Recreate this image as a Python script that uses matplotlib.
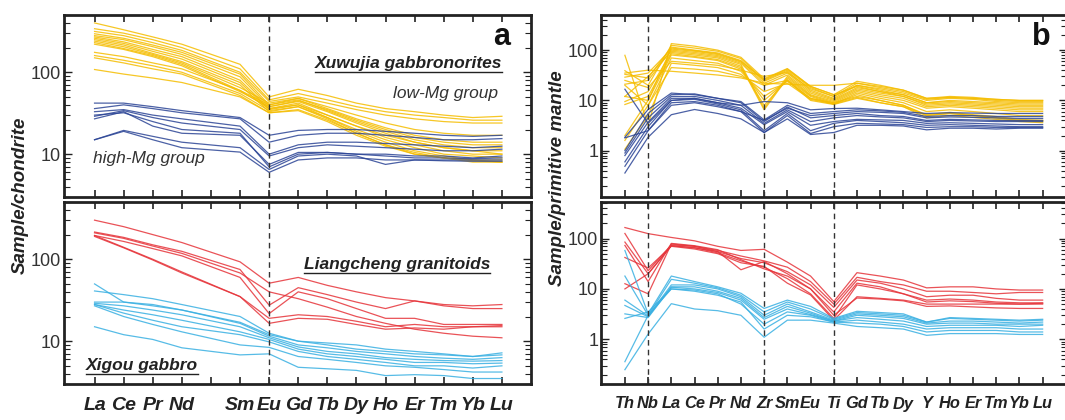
import matplotlib
matplotlib.use("Agg")
import matplotlib.pyplot as plt
from matplotlib.ticker import LogLocator, NullFormatter, FuncFormatter
from matplotlib.lines import Line2D

plt.rcParams['font.family'] = ['Liberation Sans', 'DejaVu Sans']

# element order (blank = Pm, tick without label)
ree_ticks = ['La', 'Ce', 'Pr', 'Nd', '', 'Sm', 'Eu', 'Gd', 'Tb', 'Dy', 'Ho', 'Er', 'Tm', 'Yb', 'Lu']
ree_elements = ['La', 'Ce', 'Pr', 'Nd', 'Sm', 'Eu', 'Gd', 'Tb', 'Dy', 'Ho', 'Er', 'Tm', 'Yb', 'Lu']
spider_elements = ['Th', 'Nb', 'La', 'Ce', 'Pr', 'Nd', 'Zr', 'Sm', 'Eu', 'Ti',
                   'Gd', 'Tb', 'Dy', 'Y', 'Ho', 'Er', 'Tm', 'Yb', 'Lu']

# chondrite normalised REE
xuwujia_lowmg_ree = [
    [400, 330, 270, 220, 125, 50, 62, 52, 42, 36, 33, 30, 28, 29],
    [340, 300, 250, 200, 110, 46, 55, 46, 38, 33, 30, 28, 26, 26],
    [315, 280, 230, 185, 100, 44, 50, 42, 35, 30, 27, 25, 24, 24],
    [295, 260, 215, 175, 95, 40, 48, 38, 30, 24, 20, 18, 17, 17],
    [280, 250, 205, 165, 88, 38, 45, 35, 26, 20, 16, 14, 13, 13],
    [270, 235, 190, 155, 80, 36, 42, 30, 22, 16, 13, 11, 10, 10],
    [260, 225, 180, 145, 75, 35, 40, 28, 19, 14, 11, 9.5, 8.5, 8.5],
    [250, 215, 170, 135, 70, 33, 38, 27, 18, 13, 10, 9, 8, 8],
    [240, 205, 165, 130, 65, 42, 48, 36, 27, 21, 17, 15, 14, 14],
    [230, 195, 160, 125, 60, 40, 46, 34, 25, 19, 15, 13, 12, 12],
    [220, 190, 155, 120, 58, 38, 44, 33, 24, 18, 14, 12, 11, 11],
    [175, 155, 130, 110, 60, 36, 40, 30, 22, 17, 14, 12, 11, 10],
    [160, 140, 120, 100, 55, 34, 38, 28, 20, 15, 12, 10, 9.5, 9],
    [150, 130, 110, 95, 52, 32, 35, 26, 18, 13, 10.5, 9, 8.5, 8],
    [108, 95, 85, 75, 50, 32, 34, 25, 17, 12.5, 10, 9, 8.3, 8],
]
xuwujia_highmg_ree = [
    [42, 42, 38, 34, 28, 17, 19.5, 20, 20, 19, 18, 17, 16.5, 17],
    [36, 40, 36, 32, 27, 14, 17, 18, 18, 17, 16, 15, 15, 15.5],
    [33, 35, 30, 27, 22, 10, 13, 14, 14, 13.5, 13, 12.5, 12, 12.5],
    [29, 34, 28, 24, 20, 9.5, 12, 13, 12.5, 12, 11.5, 11, 11, 11.5],
    [27, 33, 22, 18, 17, 7.5, 10.5, 10.5, 10, 10, 9.5, 9.5, 9, 9.5],
    [30, 32, 25, 20, 18, 7, 10, 10.5, 10, 9.5, 9, 9, 8.8, 9],
    [15, 19.5, 16.5, 14, 12, 6.5, 9.5, 10, 9.5, 7.5, 8.5, 8.5, 8.5, 8.5],
    [15, 19, 15, 12, 10.6, 6, 8.5, 9, 9, 8.5, 8.5, 8.3, 8.2, 8.2],
]
liangcheng_ree = [
    [300, 250, 200, 160, 93, 51, 60, 48, 40, 34, 31, 28, 27, 28],
    [215, 185, 150, 125, 75, 27.5, 45, 37, 30, 25, 31, 27, 25, 25],
    [210, 180, 145, 118, 68, 40, 33, 26, 20, 16.5, 14, 12.5, 11.5, 11],
    [195, 165, 135, 110, 60, 21.7, 40, 33, 25, 19, 19, 16, 16, 16],
    [195, 140, 100, 70, 35, 19, 21, 20, 17.5, 15, 16, 15, 15, 15],
    [190, 138, 98, 68, 35, 16.5, 19, 18.5, 16, 14, 14.5, 14, 15, 15.5],
]
xigou_ree = [
    [50, 30, 27, 24, 17, 12, 10, 9.5, 9, 8, 7.5, 7, 6.5, 7.2],
    [41, 37, 33, 28, 20, 12.5, 10, 9, 8, 7.5, 7, 6.8, 6.5, 6.8],
    [30, 30, 28, 24, 16.5, 11.5, 9, 8.3, 7.5, 7, 6.5, 6.2, 6, 6.3],
    [29, 27, 24, 21, 15, 11, 8.5, 7.5, 7, 6.3, 6, 5.8, 5.7, 5.8],
    [28, 24, 21, 18, 13, 10.5, 8, 7, 6.5, 6, 5.5, 5.5, 5.3, 5.4],
    [28, 22, 18, 15, 12, 9.8, 7.5, 6.5, 6, 5.5, 5, 5, 4.7, 5],
    [27, 20, 16, 13, 9, 8.4, 6.5, 6, 5.5, 5, 4.8, 4.5, 4.2, 4.2],
    [15, 12, 10.5, 8.3, 6.8, 7, 4.8, 4.6, 4.4, 3.8, 3.9, 3.8, 3.5, 3.5],
]

# primitive mantle normalised trace elements
xuwujia_lowmg_pm = [
    [79, 3.2, 135, 120, 100, 72, 27, 43, 19, 13, 24, 20, 16, 11, 12, 11.5, 10.5, 10, 10],
    [39, 20, 125, 110, 95, 68, 25, 40, 18, 12, 22, 18, 15, 10.5, 11.5, 11, 10, 9.5, 9.5],
    [33, 28, 115, 100, 88, 62, 24, 38, 16, 11, 20, 17, 14, 10, 11, 10.5, 9.5, 9, 9],
    [29, 35, 105, 95, 82, 58, 22, 35, 15, 10.5, 18, 15, 13, 9, 10, 9.5, 9, 8.5, 8.5],
    [21, 25, 100, 90, 78, 55, 20, 32, 14, 10, 17, 14, 12, 8.5, 9, 8.5, 8, 7.5, 7.5],
    [12, 30, 95, 85, 74, 52, 7, 30, 13, 9.5, 16, 13, 11, 7.5, 8, 7.5, 7, 6.5, 6.5],
    [9.5, 15, 90, 80, 70, 48, 6.5, 28, 12.5, 9, 15, 12, 10, 7, 7.5, 7, 6.5, 6, 6],
    [8.3, 12, 85, 75, 65, 45, 8, 26, 12, 8.5, 14, 11, 9, 6, 6.5, 6, 5.5, 5, 5],
    [2.0, 10, 80, 72, 62, 42, 10, 25, 11, 8.5, 13, 10, 8, 5, 5.5, 5, 4.5, 4, 3.8],
    [1.6, 8, 70, 62, 55, 38, 12, 24, 11, 9, 12, 10, 8, 5.2, 5.8, 5.2, 4.8, 4.2, 4],
    [1.07, 5, 55, 50, 45, 33, 15, 22, 10.5, 8.5, 11.5, 9, 7.5, 4.5, 5, 4.6, 4.2, 3.8, 3.6],
    [20, 8, 45, 42, 38, 30, 20, 25, 10, 8.3, 11, 9, 7.5, 5, 5.5, 5, 4.5, 4, 4],
    [35, 40, 38, 35, 32, 28, 22, 21, 20, 20, 22, 19, 16, 11, 11.5, 11, 10.5, 10, 10],
    [25, 18, 60, 55, 50, 40, 30, 36, 17, 12, 20, 16, 13, 9, 9.5, 9, 8.5, 8, 8],
    [12, 10, 110, 98, 85, 60, 26, 42, 19, 13, 19, 15, 12, 8, 8.5, 8, 7.5, 7, 7],
]
xuwujia_highmg_pm = [
    [16.7, 3.5, 10, 11, 9, 8, 9.5, 9, 6.5, 6.9, 7, 6.5, 6, 5.5, 5.7, 5.6, 5.5, 5.5, 5.5],
    [1.85, 6.6, 14, 13, 11, 9.5, 4.1, 8, 5.5, 6, 6.5, 6.2, 5.8, 4.8, 5, 5, 4.8, 4.8, 4.8],
    [1.0, 5.5, 13, 13.5, 11, 9, 3.8, 7.4, 4.5, 5, 5.5, 5, 4.8, 4, 4.2, 4.1, 4, 4, 4],
    [0.9, 4.5, 12, 12, 10, 8, 3.5, 6.5, 3.8, 4.5, 5, 4.7, 4.5, 3.8, 4, 3.9, 3.8, 3.8, 3.8],
    [0.8, 3.7, 11, 11, 9, 7, 3.3, 6, 3.2, 3.8, 4.2, 4.1, 4, 3.5, 3.6, 3.5, 3.4, 3.3, 3.3],
    [0.6, 3, 10, 10.5, 8.5, 6.5, 2.5, 5.5, 2.5, 3.5, 4, 3.8, 3.6, 3.2, 3.3, 3.2, 3.1, 3, 3],
    [0.49, 2.5, 9, 9.5, 8, 6, 2.3, 5, 2.2, 3, 3.5, 3.4, 3.3, 2.9, 3, 3, 2.9, 2.9, 2.9],
    [0.36, 1.85, 5.2, 6.6, 5.5, 4.3, 2.3, 4.3, 2.1, 2.3, 3.2, 3.2, 3.1, 2.6, 2.8, 2.8, 2.7, 2.8, 2.8],
    [1.8, 2.5, 8, 9, 7.5, 6, 4, 7, 5, 5.5, 6, 5.8, 5.5, 4.5, 4.7, 4.6, 4.5, 4.4, 4.4],
]
liangcheng_pm = [
    [165, 125, 105, 90, 70, 58, 61, 34, 18, 5.6, 21, 18, 15, 10.5, 11, 11, 10, 9.5, 9.5],
    [126, 23, 75, 70, 58, 45, 36, 27, 14, 5, 17, 14, 12, 9, 9, 8.5, 8, 8.5, 8.5],
    [85, 20, 72, 65, 55, 40, 33, 22, 12, 4.3, 15, 13, 10, 7, 7.5, 7.5, 6.5, 6, 6],
    [73, 14, 80, 72, 60, 38, 25, 18, 10, 3.5, 13, 11, 8, 6, 6.3, 6, 5.5, 5.3, 5.3],
    [42, 26, 70, 62, 50, 33, 28, 13, 7.6, 2.4, 7, 6.5, 6, 5, 5, 5, 5, 5, 5.2],
    [12.7, 8, 78, 70, 55, 24, 35, 20, 10, 3, 6.6, 6.3, 5.8, 4.5, 4.6, 4.4, 4.2, 4.1, 4.1],
    [10, 20, 72, 66, 52, 36, 27, 16, 8, 2.6, 12, 10, 8, 5.5, 5.8, 5.6, 5.2, 5, 5],
]
xigou_pm = [
    [58, 3.2, 18, 14, 11, 8.2, 4.1, 6, 4.5, 2.6, 3.6, 3.4, 3.2, 2.2, 2.7, 2.6, 2.5, 2.4, 2.5],
    [18, 3.0, 15.5, 13, 10.5, 7.5, 3.5, 5.5, 4, 2.5, 3.4, 3.2, 3, 2.2, 2.6, 2.5, 2.4, 2.3, 2.4],
    [6, 2.9, 12, 12, 10, 7, 3, 5, 3.5, 2.4, 3.2, 3, 2.8, 2.1, 2.3, 2.3, 2.2, 2.1, 2.2],
    [4.7, 2.8, 11, 11, 9, 6.5, 2.7, 4.5, 3.3, 2.3, 3.0, 2.8, 2.6, 2.0, 2.1, 2.1, 2.0, 2.0, 2.0],
    [3.2, 2.7, 10.8, 10, 8.5, 6, 2.5, 4, 3.1, 2.3, 2.7, 2.5, 2.3, 1.8, 1.9, 1.9, 1.9, 1.8, 1.9],
    [2.6, 3.5, 10, 9.5, 8, 5, 2, 3.5, 3, 2.2, 2.4, 2.2, 2.0, 1.6, 1.7, 1.7, 1.7, 1.6, 1.6],
    [0.36, 3.0, 10, 9, 7.5, 5.5, 1.6, 3, 2.8, 2.2, 2.1, 2.0, 1.8, 1.4, 1.5, 1.5, 1.5, 1.4, 1.4],
    [0.25, 1.27, 5.1, 4, 3.7, 3, 1.1, 2.4, 2.4, 2.1, 1.8, 1.7, 1.6, 1.2, 1.3, 1.3, 1.3, 1.25, 1.25],
]

YELLOW = '#f5bd00'
DARKBLUE = '#2c4596'
RED = '#e6343a'
LIGHTBLUE = '#39b0e2'
FRAME = '#222222'

W, H = 1065, 420
fig = plt.figure(figsize=(W / 100, H / 100), dpi=100)

def px_axes(x0, y0, x1, y1):
    return fig.add_axes([x0 / W, 1 - y1 / H, (x1 - x0) / W, (y1 - y0) / H])

ax_a1 = px_axes(64, 15, 531, 197)
ax_a2 = px_axes(64, 202, 531, 384)
ax_b1 = px_axes(601, 15, 1067, 197)
ax_b2 = px_axes(601, 202, 1067, 384)


def style(ax, ticklabels, xlim, ylim, labelsize):
    ax.set_yscale('log')
    ax.set_xlim(*xlim)
    ax.set_ylim(*ylim)
    ax.set_xticks(range(len(ticklabels)))
    if labelsize:
        ax.set_xticklabels(ticklabels, fontsize=labelsize, fontweight='bold', style='italic',
                           color='#1a1a1a')
    else:
        ax.set_xticklabels([])
    ax.yaxis.set_major_locator(LogLocator(base=10))
    ax.yaxis.set_minor_locator(LogLocator(base=10, subs=range(2, 10)))
    ax.yaxis.set_major_formatter(FuncFormatter(lambda v, p: '%g' % v))
    ax.yaxis.set_minor_formatter(NullFormatter())
    ax.tick_params(which='both', direction='in', top=True, right=True, colors=FRAME)
    ax.tick_params(axis='x', which='major', length=5, width=1.2, pad=9)
    ax.tick_params(axis='y', which='major', length=6, width=1.0, labelsize=13, labelcolor='#333333', pad=2)
    ax.tick_params(axis='y', which='minor', length=4, width=0.8)
    for s in ax.spines.values():
        s.set_linewidth(2.0)
        s.set_color(FRAME)


def draw_group(ax, elements, ticklabels, rows, color):
    xs = [ticklabels.index(e) for e in elements]
    for r in rows:
        ax.plot(xs, r, color=color, lw=0.9, alpha=0.85)


draw_group(ax_a1, ree_elements, ree_ticks, xuwujia_lowmg_ree, YELLOW)
draw_group(ax_a1, ree_elements, ree_ticks, xuwujia_highmg_ree, DARKBLUE)
draw_group(ax_a2, ree_elements, ree_ticks, liangcheng_ree, RED)
draw_group(ax_a2, ree_elements, ree_ticks, xigou_ree, LIGHTBLUE)
draw_group(ax_b1, spider_elements, spider_elements, xuwujia_lowmg_pm, YELLOW)
draw_group(ax_b1, spider_elements, spider_elements, xuwujia_highmg_pm, DARKBLUE)
draw_group(ax_b2, spider_elements, spider_elements, liangcheng_pm, RED)
draw_group(ax_b2, spider_elements, spider_elements, xigou_pm, LIGHTBLUE)

style(ax_a1, ree_ticks, (-1.05, 15), (3, 500), None)
style(ax_a2, ree_ticks, (-1.05, 15), (3, 500), 14)
style(ax_b1, spider_elements, (-1.03, 19.05), (0.12, 500), None)
style(ax_b2, spider_elements, (-1.03, 19.05), (0.13, 530), 11.8)

for ax in (ax_a1, ax_a2):
    ax.axvline(ree_ticks.index('Eu'), color='#333333', lw=1.0, ls=(0, (4, 3)))
for ax in (ax_b1, ax_b2):
    for el in ('Nb', 'Zr', 'Ti'):
        ax.axvline(spider_elements.index(el), color='#333333', lw=1.0, ls=(0, (4, 3)))

bi = dict(fontweight='bold', style='italic', color='#222222')
ax_a1.text(0.938, 0.879, 'a', transform=ax_a1.transAxes, ha='center', va='center',
           fontsize=22, fontweight='bold', color='#111111')
ax_b1.text(0.944, 0.879, 'b', transform=ax_b1.transAxes, ha='center', va='center',
           fontsize=22, fontweight='bold', color='#111111')
t1 = ax_a1.text(0.938, 0.736, 'Xuwujia gabbronorites', transform=ax_a1.transAxes,
                ha='right', va='center', fontsize=12.5, **bi)
ax_a1.text(0.929, 0.566, 'low-Mg group', transform=ax_a1.transAxes, ha='right', va='center',
           fontsize=12.5, style='italic', color='#333333')
ax_a1.text(0.062, 0.214, 'high-Mg group', transform=ax_a1.transAxes, ha='left', va='center',
           fontsize=12.5, style='italic', color='#333333')
t2 = ax_a2.text(0.912, 0.654, 'Liangcheng granitoids', transform=ax_a2.transAxes,
                ha='right', va='center', fontsize=12.5, **bi)
t3 = ax_a2.text(0.047, 0.099, 'Xigou gabbro', transform=ax_a2.transAxes,
                ha='left', va='center', fontsize=12.5, **bi)

fig.text(20 / W, 1 - 195 / H, 'Sample/chondrite', rotation=90, ha='center', va='center',
         fontsize=13.5, **bi)
fig.text(558 / W, 1 - 178 / H, 'Sample/primitive mantle', rotation=90, ha='center', va='center',
         fontsize=13.5, **bi)

# underline the group names
fig.canvas.draw()
renderer = fig.canvas.get_renderer()
for t in (t1, t2, t3):
    bb = t.get_window_extent(renderer)
    y = (bb.y0 - 1) / H
    fig.add_artist(Line2D([bb.x0 / W, bb.x1 / W], [y, y], transform=fig.transFigure,
                          color='#222222', lw=1.0))

fig.savefig('out.png', dpi=100)
